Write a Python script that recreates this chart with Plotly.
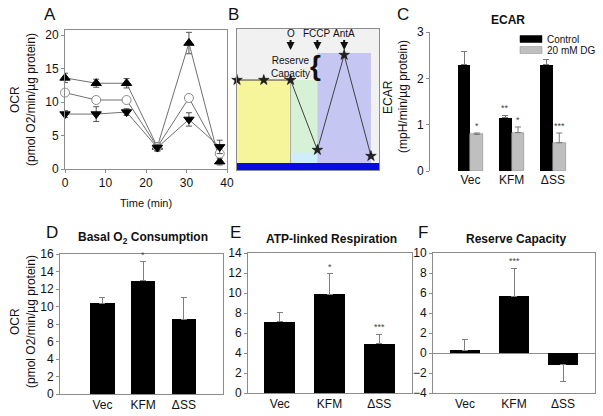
import plotly.graph_objects as go

FONT = "Liberation Sans, Arial, sans-serif"
W, H = 603, 416

# ---- data -----------------------------------------------------------
# A: OCR time course
time_min = [0, 7.7, 15.2, 22.8, 30.6, 38.2]
ocr_up = [13.6, 12.8, 12.8, 3.3, 18.8, 1.1]
ocr_up_err = [0.7, 0.6, 0.7, 0.6, 1.6, 0.5]
ocr_circle = [11.4, 10.3, 10.3, 3.3, 10.6, 2.3]
ocr_circle_err = [0.3, 0.3, 0.3, 0.3, 0.3, 0.3]
ocr_down = [8.2, 8.2, 8.5, 3.2, 7.4, 3.3]
ocr_down_err = [0.5, 1.1, 0.5, 0.5, 1.0, 1.0]

# B: schematic
b_steps = [0, 1, 2, 3, 4, 5]
b_ocr = [0.638, 0.638, 0.638, 0.142, 0.816, 0.099]
b_injections = ["O", "FCCP", "AntA"]
b_inject_at = [2, 3, 4]
phase_start = [0, 2, 2, 3]
phase_end = [2, 3, 3, 5]
phase_top = [0.638, 0.638, 0.123, 0.83]
phase_color = ["#f7f59c", "#d6f1d6", "#cdeefa", "#c6c6f2"]

# C: ECAR
groups = ["Vec", "KFM", "\u0394SS"]
ecar_names = ["Control", "20 mM DG"]
ecar_control = [2.29, 1.15, 2.29]
ecar_control_err = [0.29, 0.05, 0.11]
ecar_control_sig = ["", "**", ""]
ecar_dg = [0.79, 0.83, 0.61]
ecar_dg_err = [0.03, 0.12, 0.21]
ecar_dg_sig = ["*", "*", "***"]

# D, E, F
basal = [10.35, 12.95, 8.57]
basal_err = [0.7, 2.15, 2.48]
basal_sig = ["", "*", ""]
atp = [7.15, 9.9, 4.93]
atp_err = [0.9, 2.03, 0.97]
atp_sig = ["", "*", "***"]
reserve = [0.3, 5.7, -1.15]
reserve_err_up = [1.1, 2.8, 0]
reserve_err_down = [0, 0, 1.65]
reserve_sig = ["", "***", ""]

# ---- figure -----------------------------------------------------------
fig = go.Figure()


def dom_x(a, b):
    return [a / W, b / W]


def dom_y(top, bottom):
    return [1 - bottom / H, 1 - top / H]


LINE = "#8c8c8c"


def box_axis(**kw):
    d = dict(showline=True, linecolor=LINE, linewidth=1, mirror=True,
             ticks="outside", ticklen=3, tickcolor=LINE, showgrid=False,
             zeroline=False, automargin=False, tickfont=dict(size=12, color="#111"))
    d.update(kw)
    return d


# A
for ys, err, sym, fill, lc in [
    (ocr_up, ocr_up_err, "triangle-up", "black", "black"),
    (ocr_circle, ocr_circle_err, "circle", "white", "#888"),
    (ocr_down, ocr_down_err, "triangle-down", "black", "black"),
]:
    fig.add_trace(go.Scatter(
        x=time_min, y=ys, mode="lines+markers", xaxis="x", yaxis="y",
        line=dict(color="#707070", width=1),
        marker=dict(symbol=sym, size=9, color=fill, line=dict(color=lc, width=1)),
        error_y=dict(type="data", array=err, color="#555", thickness=1, width=3),
        cliponaxis=False, showlegend=False))

# B
fig.add_trace(go.Scatter(
    x=b_steps, y=b_ocr, mode="lines+markers", xaxis="x2", yaxis="y2",
    line=dict(color="#404040", width=1),
    marker=dict(symbol="star", size=8, color="#222", line=dict(color="#000", width=0.5)),
    cliponaxis=False, showlegend=False))

shapes = [dict(type="rect", xref="x2", yref="y2", x0=0, x1=5.3, y0=0, y1=1,
               fillcolor="#f1f1f1", line=dict(width=0), layer="below")]
for s, e, t, c in zip(phase_start, phase_end, phase_top, phase_color):
    shapes.append(dict(type="rect", xref="x2", yref="y2", x0=s, x1=e, y0=0.05, y1=t,
                       fillcolor=c, line=dict(width=0), layer="below"))
shapes.append(dict(type="rect", xref="x2", yref="y2", x0=0, x1=5.3, y0=0, y1=0.05,
                   fillcolor="#0a0ae6", line=dict(width=0), layer="below"))
shapes.append(dict(type="line", xref="x2", yref="y2", x0=2, x1=2, y0=0.05, y1=0.638,
                   line=dict(color="#9a9a9a", width=0.8), layer="below"))

# C
fig.add_trace(go.Bar(x=[0, 1, 2], y=ecar_control, width=0.31, offset=-0.31,
                     marker=dict(color="black", line=dict(width=0)),
                     error_y=dict(type="data", array=ecar_control_err, arrayminus=[0, 0, 0],
                                  symmetric=False, color="#777", thickness=1, width=3),
                     xaxis="x3", yaxis="y3", showlegend=False))
fig.add_trace(go.Bar(x=[0, 1, 2], y=ecar_dg, width=0.31, offset=0,
                     marker=dict(color="#bfbfbf", line=dict(color="#8a8a8a", width=0.6)),
                     error_y=dict(type="data", array=ecar_dg_err, arrayminus=[0, 0, 0],
                                  symmetric=False, color="#777", thickness=1, width=3),
                     xaxis="x3", yaxis="y3", showlegend=False))

# D, E, F
for vals, up, down, ax, w in [
    (basal, basal_err, [0, 0, 0], "4", 0.6),
    (atp, atp_err, [0, 0, 0], "5", 0.62),
    (reserve, reserve_err_up, reserve_err_down, "6", 0.62),
]:
    fig.add_trace(go.Bar(x=[0, 1, 2], y=vals, width=w,
                         marker=dict(color="black", line=dict(width=0)),
                         error_y=dict(type="data", array=up, arrayminus=down,
                                      symmetric=False, color="#7f7f7f", thickness=1, width=3),
                         xaxis="x" + ax, yaxis="y" + ax, showlegend=False))

ann = []


def txt(x, y, text, size=11, bold=False, xref="paper", yref="paper", angle=0, **kw):
    if bold:
        text = "<b>" + text + "</b>"
    d = dict(x=x, y=y, xref=xref, yref=yref, text=text, showarrow=False,
             xanchor="center", yanchor="middle",
             font=dict(size=size, color="#111", family=FONT), textangle=angle)
    d.update(kw)
    ann.append(d)


def px(xp, yp):
    return xp / W, 1 - yp / H


# panel letters
for letter, (lx, ly) in zip("ABCDEF", [(50, 15), (233, 15), (403, 15),
                                       (52, 232), (235, 232), (423, 232)]):
    x, y = px(lx, ly)
    txt(x, y, letter, size=17)

# axis titles
x, y = px(15, 100); txt(x, y, "OCR", size=12, angle=-90)
x, y = px(31, 100); txt(x, y, "(pmol O2/min/\u00b5g protein)", size=12, angle=-90)
x, y = px(146, 203); txt(x, y, "Time (min)", size=11)
x, y = px(388, 97); txt(x, y, "ECAR", size=12, angle=-90)
x, y = px(403, 97); txt(x, y, "(mpH/min/\u00b5g protein)", size=12, angle=-90)
x, y = px(15, 322); txt(x, y, "OCR", size=12, angle=-90)
x, y = px(31, 322); txt(x, y, "(pmol O2/min/\u00b5g protein)", size=12, angle=-90)

# panel titles
x, y = px(508, 20); txt(x, y, "ECAR", size=12, bold=True)
x, y = px(143, 238); txt(x, y, "Basal O<sub>2</sub> Consumption", size=12, bold=True)
x, y = px(331, 239); txt(x, y, "ATP-linked Respiration", size=12, bold=True)
x, y = px(516, 239); txt(x, y, "Reserve Capacity", size=12, bold=True)

# B labels
for name, at in zip(b_injections, b_inject_at):
    ann.append(dict(x=at, y=0.851, xref="x2", yref="y2", text=name, showarrow=True,
                    ax=0, ay=-17, arrowhead=2, arrowsize=0.8, arrowwidth=2,
                    arrowcolor="#111", standoff=0, startstandoff=0,
                    font=dict(size=10, color="#111", family=FONT)))
txt(2.01, 0.73, "Reserve<br>Capacity", size=10, xref="x2", yref="y2")
txt(2.92, 0.74, "<b>{</b>", size=28, xref="x2", yref="y2")

# C legend (manual)
for i, (name, col) in enumerate(zip(ecar_names, ["black", "#bfbfbf"])):
    yp = 39 + 11 * i
    shapes.append(dict(type="rect", xref="paper", yref="paper",
                       x0=520 / W, x1=542 / W, y0=1 - (yp + 3.5) / H, y1=1 - (yp - 3.5) / H,
                       fillcolor=col, line=dict(width=0.5, color="#888" if i else col)))
    x, y = px(545, yp)
    txt(x, y, name, size=10, xanchor="left")

# significance marks
for xs, vals, errs, sig, a in [
    ([-0.155, 0.845, 1.845], ecar_control, ecar_control_err, ecar_control_sig, "3"),
    ([0.155, 1.155, 2.155], ecar_dg, ecar_dg_err, ecar_dg_sig, "3"),
    ([0, 1, 2], basal, basal_err, basal_sig, "4"),
    ([0, 1, 2], atp, atp_err, atp_sig, "5"),
    ([0, 1, 2], reserve, reserve_err_up, reserve_sig, "6"),
]:
    for xv, v, e, s in zip(xs, vals, errs, sig):
        if s:
            ann.append(dict(x=xv, y=v + e, xref="x" + a, yref="y" + a, text=s,
                            showarrow=False, xanchor="center", yanchor="bottom", yshift=0,
                            font=dict(size=9, color="#444", family=FONT)))

cat_axis = dict(tickvals=[0, 1, 2], ticktext=groups, ticks="",
                tickfont=dict(size=12, color="#111"))

fig.update_layout(
    width=W, height=H, autosize=False,
    margin=dict(l=0, r=0, t=0, b=0, pad=0),
    paper_bgcolor="white", plot_bgcolor="white",
    font=dict(family=FONT, color="#111"),
    bargap=0,
    xaxis=box_axis(domain=dom_x(65, 227), range=[0, 40], tickvals=[0, 10, 20, 30, 40],
                   anchor="y"),
    yaxis=box_axis(domain=dom_y(30, 169), range=[0, 20.75], tickvals=[0, 5, 10, 15, 20],
                   anchor="x"),
    xaxis2=box_axis(domain=dom_x(237, 379), range=[0, 5.3], showticklabels=False,
                    ticks="", anchor="y2"),
    yaxis2=box_axis(domain=dom_y(29, 170), range=[0, 1], showticklabels=False,
                    ticks="", anchor="x2"),
    xaxis3=dict(domain=dom_x(430, 590), range=[-0.98, 2.9], showline=False,
                showgrid=False, zeroline=False, automargin=False, anchor="y3", **cat_axis),
    yaxis3=box_axis(domain=dom_y(32, 171), range=[0, 3], tickvals=[0, 1, 2, 3],
                    mirror=False, anchor="x3"),
    xaxis4=box_axis(domain=dom_x(60, 223), range=[-1.04, 2.96], anchor="y4", **cat_axis),
    yaxis4=box_axis(domain=dom_y(254, 394), range=[0, 16], dtick=2, anchor="x4"),
    xaxis5=box_axis(domain=dom_x(248, 412), range=[-0.64, 2.66], anchor="y5", **cat_axis),
    yaxis5=box_axis(domain=dom_y(253, 393), range=[0, 14], dtick=2, anchor="x5"),
    xaxis6=box_axis(domain=dom_x(433, 595), range=[-0.65, 2.65], anchor="y6", **cat_axis),
    yaxis6=box_axis(domain=dom_y(253, 393), range=[-4, 10], dtick=2, anchor="x6",
                    zeroline=True, zerolinecolor=LINE, zerolinewidth=1),
    shapes=shapes,
    annotations=ann,
)

# the page's default 8px body margin would push the figure off the window
fig.write_html("out.html", config={"displayModeBar": False},
               post_script="document.body.style.margin='0';document.body.style.overflow='hidden';")
